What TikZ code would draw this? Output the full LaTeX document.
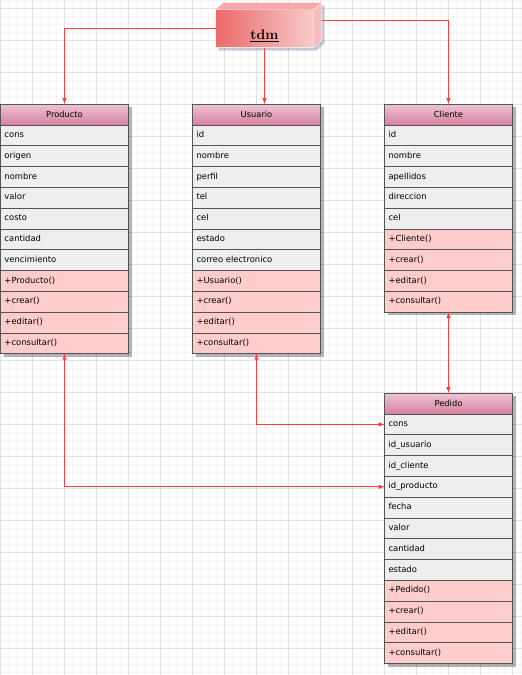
\documentclass[tikz,border=0pt]{standalone}
\usepackage{fontspec}
\setsansfont{DejaVu Sans}
\usetikzlibrary{positioning,calc,backgrounds}
\definecolor{linkred}{HTML}{FF3B3B}
\definecolor{boxline}{HTML}{555555}
\definecolor{attrgray}{HTML}{EEEEEE}
\definecolor{methpink}{HTML}{FFCCCC}
\definecolor{headtop}{HTML}{EEC4D6}
\definecolor{headbot}{HTML}{D67FA0}
\definecolor{tdmleft}{HTML}{EC6A6A}
\definecolor{tdmright}{HTML}{F8CACA}
\definecolor{tdmtop}{HTML}{F3A9A9}
\definecolor{tdmside}{HTML}{F6BDBD}
\definecolor{gridmajor}{HTML}{E3E3E3}
\definecolor{gridminor}{HTML}{F5F5F5}
\begin{document}
\begin{tikzpicture}[x=1pt,y=-1pt,>=latex,
    classhead/.style={draw=boxline, line width=0.8pt, top color=headtop, bottom color=headbot,
        minimum width=128pt, minimum height=21pt, inner sep=0pt, outer sep=0pt,
        font=\sffamily\fontsize{8.3}{9}\selectfont},
    attr/.style={draw=boxline, line width=0.8pt, fill=attrgray, text width=120pt, inner xsep=4pt,
        inner ysep=0pt, outer sep=0pt, minimum height=20.8pt, text height=6pt, text depth=1.7pt,
        align=left, font=\sffamily\fontsize{8.4}{9}\selectfont},
    meth/.style={attr, fill=methpink},
    link/.style={color=linkred, line width=1pt},
    tdmface/.style={left color=tdmleft, right color=tdmright, draw=white!85!tdmleft, line width=0.5pt,
        minimum width=98pt, minimum height=38pt, inner sep=0pt, outer sep=0pt}]
\useasboundingbox (0,0) rectangle (522,675);
% fondo cuadriculado
\begin{scope}[on background layer]
\fill[white] (0,0) rectangle (522,675);
\foreach \g in {0,8,...,675} \draw[gridminor, line width=0.5pt] (0,\g) -- (522,\g);
\foreach \g in {0,8,...,522} \draw[gridminor, line width=0.5pt] (\g,0) -- (\g,675);
\foreach \g in {8,40,...,675} \draw[gridmajor, line width=0.6pt] (0,\g) -- (522,\g);
\foreach \g in {0,32,...,522} \draw[gridmajor, line width=0.6pt] (\g,0) -- (\g,675);
\end{scope}

% tdm
\node[tdmface] (tdm) at (264.5,28.5) {};
\fill[tdmtop] (tdm.north west) -- ++(8,-7) -- ($(tdm.north east)+(8,-7)$) -- (tdm.north east) -- cycle;
\fill[tdmside] (tdm.north east) -- ++(8,-7) -- ($(tdm.south east)+(8,-7)$) -- (tdm.south east) -- cycle;
\draw[white!85!tdmleft, line width=0.5pt] (tdm.north west) -- ++(8,-7) -- ($(tdm.north east)+(8,-7)$) -- ($(tdm.south east)+(8,-7)$) -- (tdm.south east) (tdm.north east) -- ++(8,-7);
\node[font=\fontsize{14}{15}\selectfont\bfseries] (tdmname) at ($(tdm.center)+(0,7)$) {\underline{tdm}};
\coordinate (tdmout) at ($(tdm.east)+(8,-8)$);

% Producto
\node[classhead] (prod) at (64.5,114.5) {Producto};
\node[attr, below=0pt of prod] (prod1) {cons};
\node[attr, below=0pt of prod1] (prod2) {origen};
\node[attr, below=0pt of prod2] (prod3) {nombre};
\node[attr, below=0pt of prod3] (prod4) {valor};
\node[attr, below=0pt of prod4] (prod5) {costo};
\node[attr, below=0pt of prod5] (prod6) {cantidad};
\node[attr, below=0pt of prod6] (prod7) {vencimiento};
\node[meth, below=0pt of prod7] (prod8) {+Producto()};
\node[meth, below=0pt of prod8] (prod9) {+crear()};
\node[meth, below=0pt of prod9] (prod10) {+editar()};
\node[meth, below=0pt of prod10] (prod11) {+consultar()};

% Usuario
\node[classhead] (usu) at (256.5,114.5) {Usuario};
\node[attr, below=0pt of usu] (usu1) {id};
\node[attr, below=0pt of usu1] (usu2) {nombre};
\node[attr, below=0pt of usu2] (usu3) {perfil};
\node[attr, below=0pt of usu3] (usu4) {tel};
\node[attr, below=0pt of usu4] (usu5) {cel};
\node[attr, below=0pt of usu5] (usu6) {estado};
\node[attr, below=0pt of usu6] (usu7) {correo electronico};
\node[meth, below=0pt of usu7] (usu8) {+Usuario()};
\node[meth, below=0pt of usu8] (usu9) {+crear()};
\node[meth, below=0pt of usu9] (usu10) {+editar()};
\node[meth, below=0pt of usu10] (usu11) {+consultar()};

% Cliente
\node[classhead] (cli) at (448.5,114.5) {Cliente};
\node[attr, below=0pt of cli] (cli1) {id};
\node[attr, below=0pt of cli1] (cli2) {nombre};
\node[attr, below=0pt of cli2] (cli3) {apellidos};
\node[attr, below=0pt of cli3] (cli4) {direccion};
\node[attr, below=0pt of cli4] (cli5) {cel};
\node[meth, below=0pt of cli5] (cli6) {+Cliente()};
\node[meth, below=0pt of cli6] (cli7) {+crear()};
\node[meth, below=0pt of cli7] (cli8) {+editar()};
\node[meth, below=0pt of cli8] (cli9) {+consultar()};

% Pedido
\node[classhead] (ped) at (448.5,403.5) {Pedido};
\node[attr, below=0pt of ped] (ped1) {cons};
\node[attr, below=0pt of ped1] (ped2) {id\_usuario};
\node[attr, below=0pt of ped2] (ped3) {id\_cliente};
\node[attr, below=0pt of ped3] (ped4) {id\_producto};
\node[attr, below=0pt of ped4] (ped5) {fecha};
\node[attr, below=0pt of ped5] (ped6) {valor};
\node[attr, below=0pt of ped6] (ped7) {cantidad};
\node[attr, below=0pt of ped7] (ped8) {estado};
\node[meth, below=0pt of ped8] (ped9) {+Pedido()};
\node[meth, below=0pt of ped9] (ped10) {+crear()};
\node[meth, below=0pt of ped10] (ped11) {+editar()};
\node[meth, below=0pt of ped11] (ped12) {+consultar()};

% conectores
\draw[link, ->] (tdm.west) -| (prod.north);
\draw[link, ->] (tdm.south) -- (tdm.south |- usu.north);
\draw[link, ->] (tdmout) -| (cli.north);
\draw[link, <->] (cli9.south) -- (ped.north);
\draw[link, <->] (usu11.south) |- (ped1.west);
\draw[link, <->] (prod11.south) |- (ped4.west);

% sombras
\begin{scope}[on background layer]
\fill[black, opacity=0.3] ($(prod.north west)+(3,3)$) rectangle ($(prod11.south east)+(3,3)$);
\fill[black, opacity=0.3] ($(usu.north west)+(3,3)$) rectangle ($(usu11.south east)+(3,3)$);
\fill[black, opacity=0.3] ($(cli.north west)+(3,3)$) rectangle ($(cli9.south east)+(3,3)$);
\fill[black, opacity=0.3] ($(ped.north west)+(3,3)$) rectangle ($(ped12.south east)+(3,3)$);
\fill[blue!20!gray, opacity=0.35] ($(tdm.north west)+(3,3)$) -- ++(8,-7) -- ($(tdm.north east)+(11,-4)$) -- ($(tdm.south east)+(11,-4)$) -- ($(tdm.south east)+(3,3)$) -- ($(tdm.south west)+(3,3)$) -- cycle;
\end{scope}
\end{tikzpicture}
\end{document}
